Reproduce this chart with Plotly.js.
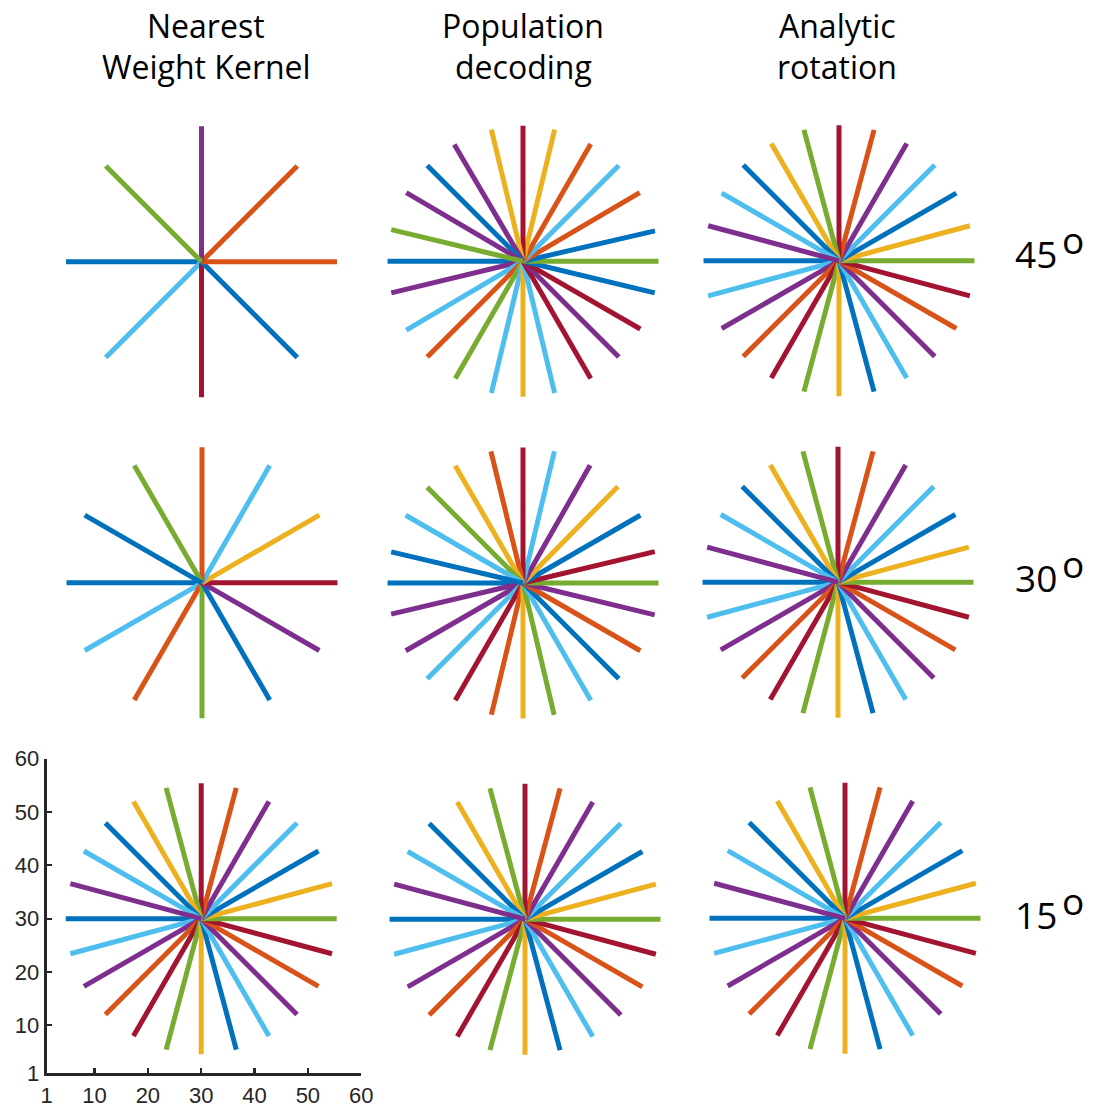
<!DOCTYPE html>
<html>
<head>
<meta charset="utf-8">
<script src="https://cdn.plot.ly/plotly-3.0.1.min.js"></script>
<style>
html,body{margin:0;padding:0;background:#fff;}
#chart{width:1095px;height:1109px;}
</style>
</head>
<body>
<div id="chart"></div>
<script>
// ---- data (angles in degrees, colour codes) ----
const colTitles = [["Nearest", "Weight Kernel"], ["Population", "decoding"], ["Analytic", "rotation"]];
const rowLabels = ["45", "30", "15"];
const tickVals = [1, 10, 20, 30, 40, 50, 60];
const tickText = ["1", "10", "20", "30", "40", "50", "60"];
const centerValue = 30;
const lineLength = 25.4;

const nearest45Angles = [-180, -135, -90, -45, 0, 45, 90, 135];
const nearest45Colors = ["B", "L", "R", "B", "O", "O", "P", "G"];

const population45Angles = [-180, -166.5, -149.5, -135, -120, -103.5, -90, -76.5, -60, -45, -30, -13.5,
                            0, 13, 30.5, 45, 60, 76.5, 90, 103.5, 120.5, 135, 149.5, 166.5];
const population45Colors = ["B", "P", "L", "O", "G", "L", "Y", "L", "R", "P", "R", "B",
                            "G", "B", "O", "L", "O", "Y", "R", "Y", "P", "B", "P", "G"];

const analytic45Angles = [-180, -165, -150, -135, -120, -105, -90, -75, -60, -45, -30, -15,
                          0, 15, 30, 45, 60, 75, 90, 105, 120, 135, 150, 165];
const analytic45Colors = ["B", "L", "P", "O", "R", "G", "Y", "B", "L", "P", "O", "R",
                          "G", "Y", "B", "L", "P", "O", "R", "G", "Y", "B", "L", "P"];

const nearest30Angles = [-180, -150, -120, -90, -60, -30, 0, 30, 60, 90, 120, 150];
const nearest30Colors = ["B", "L", "O", "G", "B", "P", "R", "Y", "L", "O", "G", "B"];

const population30Angles = [-180, -166.7, -150, -135, -120, -103.5, -90, -76.7, -60, -45, -30, -13.6,
                            0, 13.4, 30, 45.5, 60.3, 76.6, 90, 103.7, 120, 135, 150, 166.7];
const population30Colors = ["B", "P", "P", "L", "R", "O", "Y", "G", "L", "B", "O", "P",
                            "G", "R", "B", "Y", "P", "L", "R", "O", "Y", "G", "L", "B"];

const analytic30Angles = [-180, -165, -150, -135, -120, -105, -90, -75, -60, -45, -30, -15,
                          0, 15, 30, 45, 60, 75, 90, 105, 120, 135, 150, 165];
const analytic30Colors = ["B", "L", "P", "O", "R", "G", "Y", "B", "L", "P", "O", "R",
                          "G", "Y", "B", "L", "P", "O", "R", "G", "Y", "B", "L", "P"];

const nearest15Angles = [-180, -165, -150, -135, -120, -105, -90, -75, -60, -45, -30, -15,
                         0, 15, 30, 45, 60, 75, 90, 105, 120, 135, 150, 165];
const nearest15Colors = ["B", "L", "P", "O", "R", "G", "Y", "B", "L", "P", "O", "R",
                         "G", "Y", "B", "L", "P", "O", "R", "G", "Y", "B", "L", "P"];

const population15Angles = [-180, -165, -150, -135, -120, -105, -90, -75, -60, -45, -30, -15,
                            0, 15, 30, 45, 60, 75, 90, 105, 120, 135, 150, 165];
const population15Colors = ["B", "L", "P", "O", "R", "G", "Y", "B", "L", "P", "O", "R",
                            "G", "Y", "B", "L", "P", "O", "R", "G", "Y", "B", "L", "P"];

const analytic15Angles = [-180, -165, -150, -135, -120, -105, -90, -75, -60, -45, -30, -15,
                          0, 15, 30, 45, 60, 75, 90, 105, 120, 135, 150, 165];
const analytic15Colors = ["B", "L", "P", "O", "R", "G", "Y", "B", "L", "P", "O", "R",
                          "G", "Y", "B", "L", "P", "O", "R", "G", "Y", "B", "L", "P"];

// ---- styles / layout ----
const palette = {B: "#0072BD", O: "#D95319", Y: "#EDB120", P: "#7E2F8E", G: "#77AC30", L: "#4DBEEE", R: "#A2142F"};
const W = 1095, H = 1109, S = 5.333;
const panelCenters = [[201.5, 261.7], [523, 261.3], [839, 260.8],
                      [202, 582.8], [523, 583], [838, 582.2],
                      [201.2, 918.7], [525, 919.2], [845, 918.3]];
const panels = [
  [nearest45Angles, nearest45Colors], [population45Angles, population45Colors], [analytic45Angles, analytic45Colors],
  [nearest30Angles, nearest30Colors], [population30Angles, population30Colors], [analytic30Angles, analytic30Colors],
  [nearest15Angles, nearest15Colors], [population15Angles, population15Colors], [analytic15Angles, analytic15Colors]
];

const traces = [];
const layout = {
  width: W, height: H,
  margin: {l: 0, r: 0, t: 0, b: 0},
  paper_bgcolor: "#ffffff", plot_bgcolor: "rgba(0,0,0,0)",
  showlegend: false, hovermode: false,
  annotations: []
};

panels.forEach(function (p, i) {
  const n = i + 1;
  const xa = n === 1 ? "x" : "x" + n;
  const ya = n === 1 ? "y" : "y" + n;
  const angles = p[0], colors = p[1];
  angles.forEach(function (a, k) {
    const r = a * Math.PI / 180;
    traces.push({
      type: "scatter", mode: "lines",
      x: [centerValue, centerValue + lineLength * Math.cos(r)],
      y: [centerValue, centerValue + lineLength * Math.sin(r)],
      xaxis: xa, yaxis: ya,
      line: {color: palette[colors[k]], width: 5},
      hoverinfo: "skip", showlegend: false
    });
  });
  const c = panelCenters[i];
  const shown = (n === 7);
  const common = {
    range: [1, 60], fixedrange: true, showgrid: false, zeroline: false,
    visible: shown
  };
  const xaxis = Object.assign({}, common, {
    domain: [(c[0] - 29 * S) / W, (c[0] + 30 * S) / W],
    anchor: ya
  });
  const yaxis = Object.assign({}, common, {
    domain: [1 - (c[1] + 29 * S) / H, 1 - (c[1] - 30 * S) / H],
    anchor: xa
  });
  if (shown) {
    [xaxis, yaxis].forEach(function (ax) {
      Object.assign(ax, {
        showline: true, linecolor: "#262626", linewidth: 2.8,
        ticks: "inside", ticklen: 5, tickwidth: 2.2, tickcolor: "#262626",
        tickmode: "array", tickvals: tickVals, ticktext: tickText,
        tickfont: {family: "Liberation Sans, Arial, sans-serif", size: 22, color: "#262626"},
        mirror: false
      });
    });
  }
  layout[n === 1 ? "xaxis" : "xaxis" + n] = xaxis;
  layout[n === 1 ? "yaxis" : "yaxis" + n] = yaxis;
});

// column titles
const titleFont = {family: "Open Sans, sans-serif", size: 32, color: "#000000"};
const titleX = [206, 523, 837];
colTitles.forEach(function (t, j) {
  layout.annotations.push({text: t[0], x: titleX[j] / W, y: 1 - 25 / H, xref: "paper", yref: "paper",
    xanchor: "center", yanchor: "middle", showarrow: false, font: titleFont});
  layout.annotations.push({text: t[1], x: titleX[j] / W, y: 1 - 67 / H, xref: "paper", yref: "paper",
    xanchor: "center", yanchor: "middle", showarrow: false, font: titleFont});
});

// row labels (degrees)
const rowY = [253, 577, 914];
const labelFont = {family: "Open Sans, sans-serif", size: 37, color: "#000000"};
const degFont = {family: "Open Sans, sans-serif", size: 37, color: "#000000"};
rowLabels.forEach(function (t, j) {
  layout.annotations.push({text: t, x: 1059 / W, y: 1 - rowY[j] / H, xref: "paper", yref: "paper",
    xanchor: "right", yanchor: "middle", showarrow: false, font: labelFont});
  layout.annotations.push({text: "o", x: 1060 / W, y: 1 - (rowY[j] - 14) / H, xref: "paper", yref: "paper",
    xanchor: "left", yanchor: "middle", showarrow: false, font: degFont});
});

Plotly.newPlot("chart", traces, layout, {staticPlot: true, displayModeBar: false});
</script>
</body>
</html>
